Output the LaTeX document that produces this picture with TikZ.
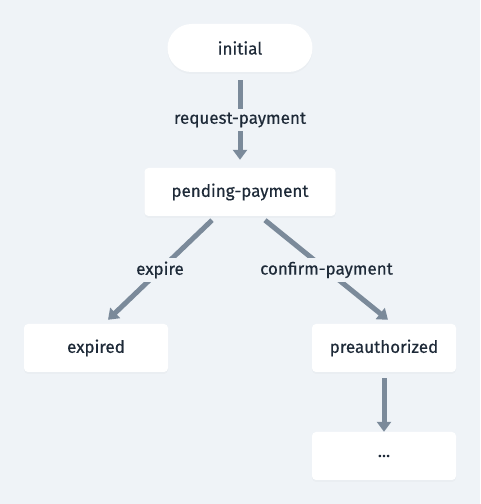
\documentclass[tikz,border=0pt]{standalone}
\usepackage{fontspec}
\setmainfont{Fira Sans}[FakeBold=0.5]
\usetikzlibrary{arrows.meta,shadows}
\definecolor{bgcol}{HTML}{EFF3F7}
\definecolor{edgecol}{HTML}{7B8A9A}
\definecolor{inkcol}{HTML}{1E2A38}
\tikzset{
  state/.style={fill=white,rounded corners=4pt,minimum height=48pt,
    text=inkcol,font=\fontsize{17}{20}\selectfont,
    drop shadow={opacity=0.04,shadow xshift=0pt,shadow yshift=-2pt}},
  trans/.style={draw=edgecol,line width=5pt,
    -{Triangle[width=14pt,length=10pt]}},
  translabel/.style={fill=bgcol,text=inkcol,inner sep=4pt,
    font=\fontsize{17}{20}\selectfont}
}
\begin{document}
\begin{tikzpicture}[x=1pt,y=1pt]
\fill[bgcol] (0,0) rectangle (480,504);
\useasboundingbox (0,0) rectangle (480,504);
% states
\node[state,rounded corners=24pt,minimum width=145pt] (initial) at (240,456) {initial};
\node[state,minimum width=191pt] (pending) at (240,312) {pending-payment};
\node[state,minimum width=144pt] (expired) at (96,156) {expired};
\node[state,minimum width=144pt] (preauth) at (384,156) {preauthorized};
\node[state,minimum width=144pt] (rest) at (384,48) {...};
% transitions
\draw[trans,shorten <=8pt,shorten >=8pt] (initial) -- (pending)
  node[midway,translabel] {request-payment};
\draw[trans] ([xshift=-28pt,yshift=-4pt]pending.south) -- ([xshift=12pt,yshift=4pt]expired.north)
  node[midway,translabel] {expire};
\draw[trans] ([xshift=25pt,yshift=-4pt]pending.south) -- ([xshift=4pt,yshift=4pt]preauth.north)
  node[midway,translabel] {confirm-payment};
\draw[trans,shorten <=6pt] (preauth) -- (rest);
\end{tikzpicture}
\end{document}
